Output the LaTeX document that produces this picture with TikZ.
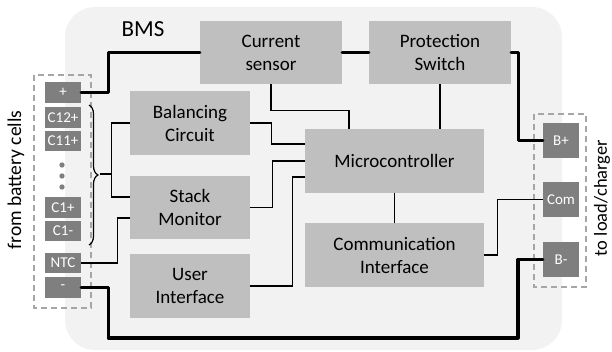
\documentclass[tikz,border=0pt]{standalone}
\usepackage{fontspec}
\setmainfont{Carlito}
\usetikzlibrary{decorations.pathreplacing}
\definecolor{bgfill}{HTML}{F2F2F2}
\definecolor{boxfill}{HTML}{BFBFBF}
\definecolor{pinfill}{HTML}{7F7F7F}
\definecolor{dashgray}{HTML}{A6A6A6}
\begin{document}
\begin{tikzpicture}[x=1pt,y=-1pt,
  blk/.style={fill=boxfill,minimum width=#1,minimum height=63.5pt,inner sep=0pt,align=center,font=\fontsize{19}{23}\selectfont},
  blk/.default=120pt,
  pin/.style={fill=pinfill,text=white,minimum width=36pt,minimum height=#1,inner sep=0pt,font=\fontsize{15}{17}\selectfont},
  pin/.default=20.5pt,
  frame/.style={draw=dashgray,line width=1.4pt,dash pattern=on 6pt off 4pt},
  pwr/.style={line width=3.2pt,line cap=round,line join=round},
  sig/.style={line width=1.2pt}]
\useasboundingbox (0,0) rectangle (612,351);
\fill[bgfill,rounded corners=30pt] (65,7) rectangle (562,350);
\node[font=\fontsize{23}{26}\selectfont] (bms) at (143,29) {BMS};
\node[blk=142pt] (cs) at (271,52.5) {Current\\sensor};
\node[blk=142pt] (ps) at (440,52.5) {Protection\\Switch};
\node[blk] (bal) at (190,123) {Balancing\\Circuit};
\node[blk] (stk) at (190,207.5) {Stack\\Monitor};
\node[blk] (usr) at (190,286) {User\\Interface};
\node[blk=179pt] (mcu) at (394.5,161) {Microcontroller};
\node[blk=179pt] (com) at (394.5,255) {Communication\\Interface};
\draw[frame] (34,75) rectangle (91,308);
\draw[frame] (534,114) rectangle (586,287);
\node[pin] (pplus) at (63,92.5) {+};
\node[pin] (c12) at (63,117.5) {C12+};
\node[pin] (c11) at (63,141) {C11+};
\node[pin] (c1p) at (63,207.5) {C1+};
\node[pin] (c1m) at (63,231) {C1-};
\node[pin] (ntc) at (63,263) {NTC};
\node[pin] (pminus) at (63,287.5) {-};
\foreach \y in {165,176,187}
  \fill[pinfill] (62,\y) circle (2.7pt);
\node[pin=35pt] (bplus) at (561,140.5) {B+};
\node[pin=35pt] (pcom) at (561,199.5) {Com};
\node[pin=35pt] (bminus) at (561,259.5) {B-};
\node[rotate=90,font=\fontsize{19.5}{22}\selectfont] (src) at (16,180) {from battery cells};
\node[rotate=90,font=\fontsize{18.5}{21}\selectfont] (dst) at (602,198) {to load/charger};
\coordinate (brtip) at (100,174);
\coordinate (gnd) at (518,338);
\draw[sig,decorate,decoration={brace,amplitude=9pt}] (89,105) -- (89,245);
\draw[pwr] (pplus.east) -- ++(27,0) |- (cs.west);
\draw[pwr] (cs.east) -- (ps.west);
\draw[pwr] (ps.east) -- ++(7,0) |- (bplus.west);
\draw[pwr] (pminus.east) -- ++(27,0) |- (gnd) |- (bminus.west);
\draw[sig] (brtip) -- (112,174);
\draw[sig] (bal.west) -- ++(-18,0) |- ([yshift=10.5pt]stk.west);
\draw[sig] (ntc.east) -- ++(36,0) |- ([yshift=-10.5pt]stk.west);
\draw[sig] (cs.south) -- ++(0,26) -| ([xshift=-45.5pt]mcu.north);
\draw[sig] (bal.east) -- ++(21,0) |- ([yshift=17pt]mcu.west);
\draw[sig] (stk.east) -- ++(22,0) |- (mcu.west);
\draw[sig] (usr.east) -- ++(42,0) |- ([yshift=-16pt]mcu.west);
\draw[sig] (ps.south) -- (ps.south |- mcu.north);
\draw[sig] (mcu.south) -- (com.north);
\draw[sig] (com.east) -- ++(13,0) |- (pcom.west);
\end{tikzpicture}
\end{document}
